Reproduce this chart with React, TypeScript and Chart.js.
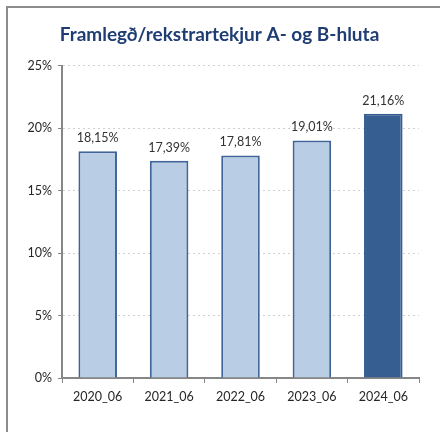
import React, { useEffect, useRef } from "react";
import { Chart, registerables } from "chart.js";

Chart.register(...registerables);

const categories = ["2020_06", "2021_06", "2022_06", "2023_06", "2024_06"];
const values = [18.15, 17.39, 17.81, 19.01, 21.16];
const valueLabels = ["18,15%", "17,39%", "17,81%", "19,01%", "21,16%"];
const fillColors = ["#B9CDE5", "#B9CDE5", "#B9CDE5", "#B9CDE5", "#365E91"];
const borderColors = ["#41659A", "#41659A", "#41659A", "#41659A", "#365E91"];
const yTicks = [0, 5, 10, 15, 20, 25];
const titleText = "Framlegð/rekstrartekjur A- og B-hluta";

const FONT = "Lato, 'Open Sans', sans-serif";

const labelPlugin = {
  id: "barLabels",
  afterDatasetsDraw(chart: any) {
    const ctx = chart.ctx;
    const meta = chart.getDatasetMeta(0);
    ctx.save();
    ctx.font = `12.5px ${FONT}`;
    ctx.fillStyle = "#333333";
    ctx.textAlign = "center";
    ctx.textBaseline = "bottom";
    meta.data.forEach((bar: any, i: number) => {
      ctx.fillText(valueLabels[i], bar.x, bar.y - 7);
    });
    ctx.restore();
  },
};

export default function App() {
  const ref = useRef<HTMLCanvasElement>(null);
  useEffect(() => {
    if (!ref.current) return;
    const chart = new Chart(ref.current, {
      type: "bar",
      data: {
        labels: categories,
        datasets: [
          {
            data: values,
            backgroundColor: fillColors,
            borderColor: borderColors,
            borderWidth: 2,
            barPercentage: 0.54,
            categoryPercentage: 1,
          },
        ],
      },
      options: {
        animation: false,
        responsive: false,
        maintainAspectRatio: false,
        layout: { padding: { left: 20, right: 21, top: 0, bottom: 0 } },
        plugins: {
          legend: { display: false },
          tooltip: { enabled: false },
          title: {
            display: true,
            text: titleText,
            color: "#1F3D73",
            font: { family: FONT, size: 19, weight: "bold" },
            padding: { top: 23, bottom: 20 },
          },
        },
        scales: {
          x: {
            grid: {
              display: true,
              drawOnChartArea: false,
              drawTicks: true,
              tickLength: 5,
              tickColor: "#868686",
              offset: true,
            },
            border: { display: true, color: "#868686", width: 2 },
            ticks: {
              color: "#262626",
              font: { family: FONT, size: 12.5 },
              padding: 6,
              maxRotation: 0,
            },
            afterFit(scale: any) {
              scale.height = 54;
            },
          },
          y: {
            min: 0,
            max: 25,
            afterBuildTicks(scale: any) {
              scale.ticks = yTicks.map((v) => ({ value: v }));
            },
            grid: {
              color: "#D0D0D0",
              tickColor: "#868686",
              tickLength: 4,
              tickBorderDash: [],
              drawTicks: true,
            },
            border: { display: true, color: "#868686", width: 2, dash: [2, 3] },
            ticks: {
              color: "#262626",
              font: { family: FONT, size: 12.5 },
              padding: 6,
              callback: (v: any) => `${v}%`,
            },
            afterFit(scale: any) {
              scale.width = 42;
            },
          },
        },
      } as any,
      plugins: [labelPlugin],
    });
    return () => chart.destroy();
  }, []);

  return (
    <div style={{ position: "fixed", left: 0, top: 0, width: 440, height: 432, background: "#fff", overflow: "hidden" }}>
      <div
        style={{
          position: "absolute",
          left: 6,
          top: 6,
          width: 460,
          height: 460,
          border: "2px solid #8C8C8C",
          boxSizing: "border-box",
        }}
      />
      <canvas ref={ref} width={440} height={432} style={{ position: "absolute", left: 0, top: 0, width: 440, height: 432 }} />
    </div>
  );
}
